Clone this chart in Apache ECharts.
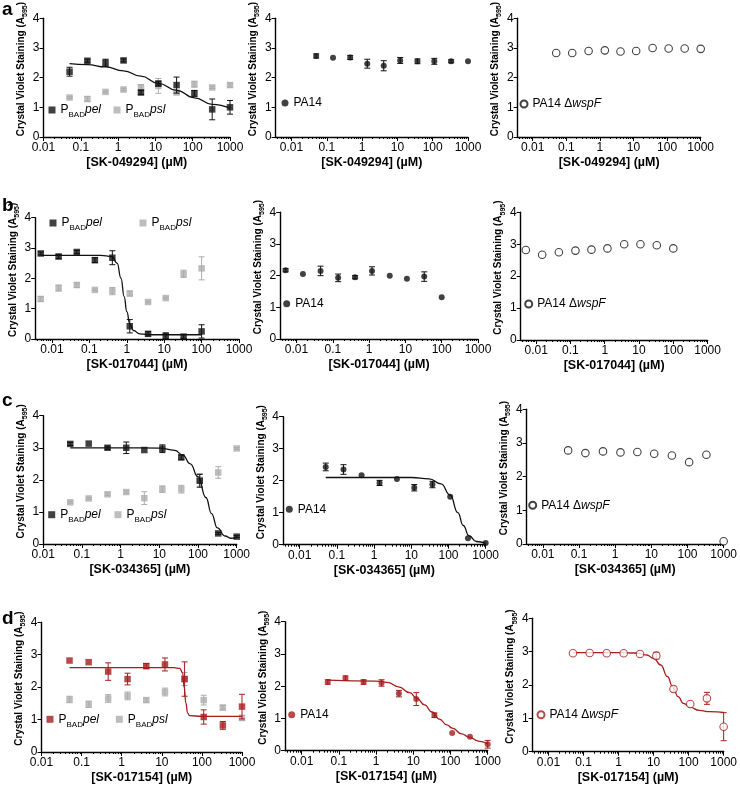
<!DOCTYPE html>
<html>
<head>
<meta charset="utf-8">
<script src="https://cdn.jsdelivr.net/npm/echarts@6/dist/echarts.min.js"></script>
<style>
  html, body { margin: 0; padding: 0; background: #fff; }
  #chart { width: 740px; height: 785px; }
</style>
</head>
<body>
<div id="chart"></div>
<script>
// concentrations (µM), 3-fold dilutions
const concHigh = [0.05, 0.15, 0.46, 1.4, 4.1, 12, 37, 111, 333, 1000]
const concLow = [0.005, 0.015, 0.046, 0.14, 0.41, 1.2, 3.7, 11, 33, 100]
const xTickLabels = ['0.01', '0.1', '1', '10', '100', '1000']
const xMajorTicks = [-2, -1, 0, 1, 2, 3]

// row a - SK-049294
const aPel = [2.2, 2.57, 2.5, 2.58, 1.5, 1.8, 1.75, 1.47, 0.93, 1.0]
const aPelErr = [0.15, 0.05, 0.12, 0.05, 0.07, 0.08, 0.27, 0.1, 0.35, 0.23]
const aPsl = [1.33, 1.28, 1.52, 1.6, 1.67, 1.72, 1.5, 1.78, 1.67, 1.75]
const aPslErr = [0.03, 0.08, 0.03, 0.04, 0.1, 0.25, 0.05, 0.1, 0.04, 0.07]
const aPelFit = [[0.05, 2.47], [0.15, 2.44], [0.46, 2.36], [1.4, 2.23], [4.1, 2.05], [12, 1.81], [37, 1.57], [111, 1.32], [333, 1.1], [1000, 0.97]]
const aPA14 = [2.73, 2.67, 2.68, 2.47, 2.4, 2.58, 2.55, 2.55, 2.55, 2.55]
const aPA14Err = [0.07, 0, 0.07, 0.15, 0.17, 0.1, 0.08, 0.1, 0.05, 0]
const aWspF = [2.83, 2.83, 2.9, 2.92, 2.88, 2.9, 3.0, 2.98, 2.98, 2.97]

// row b - SK-017044
const bPel = [2.82, 2.72, 2.87, 2.6, 2.68, 0.42, 0.17, 0.1, 0.08, 0.25]
const bPelErr = [0.05, 0.07, 0.05, 0.08, 0.23, 0.22, 0.07, 0.1, 0.06, 0.22]
const bPsl = [1.32, 1.68, 1.78, 1.62, 1.58, 1.5, 1.22, 1.35, 2.15, 2.33]
const bPslErr = [0.08, 0.1, 0.08, 0.03, 0.12, 0.08, 0.03, 0.03, 0.12, 0.38]
const bPelFit = [[0.005, 2.76], [0.2, 2.76], [0.4, 2.72], [0.55, 2.5], [0.7, 2.0], [0.85, 1.4], [1.0, 0.9], [1.2, 0.5], [1.5, 0.28], [2.2, 0.17], [5, 0.14], [100, 0.14]]
const bPA14 = [2.17, 2.05, 2.15, 1.93, 1.95, 2.15, 2.0, 1.9, 1.97, 1.32]
const bPA14Err = [0.05, 0, 0.15, 0.12, 0.05, 0.13, 0, 0, 0.15, 0]
const bWspF = [2.82, 2.67, 2.75, 2.8, 2.83, 2.87, 3.0, 3.0, 2.97, 2.87]

// row c - SK-034365
const cPel = [3.12, 3.13, 3.0, 3.0, 2.93, 2.97, 2.7, 1.97, 0.33, 0.23]
const cPelErr = [0.05, 0, 0.05, 0.18, 0, 0.12, 0.07, 0.2, 0.03, 0.03]
const cPsl = [1.3, 1.42, 1.55, 1.62, 1.43, 1.71, 1.71, 2.0, 2.23, 2.98]
const cPslErr = [0.03, 0.03, 0.04, 0.04, 0.2, 0.1, 0.12, 0.2, 0.18, 0.03]
const cPelFit = [[0.05, 3.0], [1, 3.0], [10, 2.99], [25, 2.92], [40, 2.78], [63, 2.5], [100, 2.1], [160, 1.45], [224, 0.95], [316, 0.5], [500, 0.25], [700, 0.18], [1000, 0.2]]
const cPA14 = [2.43, 2.35, 2.17, 1.93, 2.05, 1.78, 1.88, 1.5, 0.2, 0.05]
const cPA14Err = [0.12, 0.15, 0, 0.08, 0, 0.1, 0.1, 0, 0, 0]
const cPA14Fit = [[0.05, 2.1], [10, 2.1], [30, 2.06], [63, 1.9], [111, 1.55], [178, 1.0], [250, 0.6], [355, 0.28], [560, 0.1], [1000, 0.05]]
const cWspF = [2.78, 2.7, 2.75, 2.72, 2.73, 2.68, 2.63, 2.43, 2.65, 0.08]

// row d - SK-017154
const dPel = [2.82, 2.77, 2.48, 2.25, 2.65, 2.7, 2.25, 1.08, 0.82, 1.4]
const dPelErr = [0, 0, 0.27, 0.18, 0.08, 0.2, 0.53, 0.22, 0.12, 0.38]
const dPsl = [1.62, 1.47, 1.65, 1.73, 1.6, 1.85, 2.25, 1.6, 1.37, 1.05]
const dPslErr = [0.1, 0.1, 0.12, 0.12, 0.07, 0.12, 0.2, 0.15, 0.07, 0.08]
const dPelFit = [[0.05, 2.6], [20, 2.6], [28, 2.58], [33, 2.45], [36, 2.0], [40, 1.5], [44, 1.2], [50, 1.12], [100, 1.1], [1000, 1.1]]
const dPA14 = [2.13, 2.25, 2.13, 2.1, 1.77, 1.6, 1.1, 0.55, 0.43, 0.2]
const dPA14Err = [0.07, 0.07, 0.07, 0.1, 0.1, 0.2, 0.07, 0, 0, 0.12]
const dPA14Fit = [[0.05, 2.19], [1, 2.16], [2, 2.12], [4, 1.98], [8, 1.8], [12.6, 1.62], [20, 1.42], [32, 1.2], [50, 0.98], [80, 0.8], [112, 0.7], [200, 0.52], [316, 0.42], [560, 0.3], [1000, 0.22]]
const dWspF = [2.95, 2.96, 2.95, 2.95, 2.93, 2.88, 1.88, 1.43, 1.6, 0.75]
const dWspFErr = [0, 0, 0, 0, 0, 0.1, 0.08, 0, 0.18, 0.42]
const dWspFFit = [[0.05, 2.97], [1, 2.97], [3.2, 2.96], [6.3, 2.9], [10, 2.8], [16, 2.6], [25, 2.25], [35, 1.95], [50, 1.65], [71, 1.45], [112, 1.33], [200, 1.24], [400, 1.2], [1000, 1.18]]

const FONT = 'Liberation Sans, Arial, sans-serif'
const BLACK = '#111111'
const GRAY = '#adadad'
const RED = '#a51e1e'

// plot boxes in px (left = y axis, right = 1000 µM)
const layout = [
  { left: 43.5, right: 230, top: 15, bottom: 137, xmin: -2 },
  { left: 275.6, right: 468, top: 15, bottom: 137, xmin: -2.45 },
  { left: 517.6, right: 700.7, top: 12, bottom: 137, xmin: -2.45 },
  { left: 35.2, right: 239, top: 217.7, bottom: 339, xmin: -2.45 },
  { left: 280.2, right: 478, top: 212.3, bottom: 339, xmin: -2.45 },
  { left: 520.7, right: 707.6, top: 212.3, bottom: 340, xmin: -2.45 },
  { left: 43.2, right: 236.7, top: 415.7, bottom: 544, xmin: -2 },
  { left: 283, right: 485.7, top: 416.7, bottom: 544.7, xmin: -2.45 },
  { left: 526.6, right: 725, top: 409.3, bottom: 544, xmin: -2.45 },
  { left: 41.5, right: 242, top: 622.3, bottom: 752.3, xmin: -2 },
  { left: 285, right: 487.7, top: 621.7, bottom: 750.7, xmin: -2.45 },
  { left: 532.7, right: 726.7, top: 618.3, bottom: 751.7, xmin: -2.45 }
]

const panels = [
  { xName: '[SK-049294] (µM)', sets: [
    { key: 'a1-psl', conc: concHigh, y: aPsl, err: aPslErr, shape: 'sq', color: GRAY },
    { key: 'a1-pel', conc: concHigh, y: aPel, err: aPelErr, shape: 'sq', color: BLACK, fit: aPelFit }],
    legends: [['a1-pel', 52, 113], ['a1-psl', 117, 113]] },
  { xName: '[SK-049294] (µM)', sets: [
    { key: 'a2-pa14', conc: concHigh, y: aPA14, err: aPA14Err, shape: 'dot', color: BLACK }],
    legends: [['a2-pa14', 285, 106]] },
  { xName: '[SK-049294] (µM)', sets: [
    { key: 'a3-wsp', conc: concHigh, y: aWspF, shape: 'ring', color: BLACK }],
    legends: [['a3-wsp', 523, 107]] },
  { xName: '[SK-017044] (µM)', sets: [
    { key: 'b1-psl', conc: concLow, y: bPsl, err: bPslErr, shape: 'sq', color: GRAY },
    { key: 'b1-pel', conc: concLow, y: bPel, err: bPelErr, shape: 'sq', color: BLACK, fit: bPelFit }],
    legends: [['b1-pel', 53, 226], ['b1-psl', 143, 226]] },
  { xName: '[SK-017044] (µM)', sets: [
    { key: 'b2-pa14', conc: concLow, y: bPA14, err: bPA14Err, shape: 'dot', color: BLACK }],
    legends: [['b2-pa14', 286.7, 306.7]] },
  { xName: '[SK-017044] (µM)', sets: [
    { key: 'b3-wsp', conc: concLow, y: bWspF, shape: 'ring', color: BLACK }],
    legends: [['b3-wsp', 527.7, 307]] },
  { xName: '[SK-034365] (µM)', sets: [
    { key: 'c1-psl', conc: concHigh, y: cPsl, err: cPslErr, shape: 'sq', color: GRAY },
    { key: 'c1-pel', conc: concHigh, y: cPel, err: cPelErr, shape: 'sq', color: BLACK, fit: cPelFit }],
    legends: [['c1-pel', 51.7, 517.7], ['c1-psl', 118, 517.7]] },
  { xName: '[SK-034365] (µM)', sets: [
    { key: 'c2-pa14', conc: concHigh, y: cPA14, err: cPA14Err, shape: 'dot', color: BLACK, fit: cPA14Fit }],
    legends: [['c2-pa14', 289.3, 512.3]] },
  { xName: '[SK-034365] (µM)', sets: [
    { key: 'c3-wsp', conc: concHigh, y: cWspF, shape: 'ring', color: BLACK }],
    legends: [['c3-wsp', 531.7, 508.3]] },
  { xName: '[SK-017154] (µM)', sets: [
    { key: 'd1-psl', conc: concHigh, y: dPsl, err: dPslErr, shape: 'sq', color: GRAY },
    { key: 'd1-pel', conc: concHigh, y: dPel, err: dPelErr, shape: 'sq', color: RED, fit: dPelFit }],
    legends: [['d1-pel', 50, 722.3], ['d1-psl', 119.3, 722.3]] },
  { xName: '[SK-017154] (µM)', sets: [
    { key: 'd2-pa14', conc: concHigh, y: dPA14, err: dPA14Err, shape: 'dot', color: RED, fit: dPA14Fit }],
    legends: [['d2-pa14', 291.7, 717.7]] },
  { xName: '[SK-017154] (µM)', sets: [
    { key: 'd3-wsp', conc: concHigh, y: dWspF, err: dWspFErr, shape: 'ring', color: RED, fit: dWspFFit }],
    legends: [['d3-wsp', 540, 717.7]] }
]

const grid = []
const xAxis = []
const yAxis = []
const series = []
const legend = []

function lg(v) {
  return Math.log10(v)
}

function legendLabel(key) {
  if (key.endsWith('pel')) return '{n|P}{s|BAD}{i|pel}'
  if (key.endsWith('psl')) return '{n|P}{s|BAD}{i|psl}'
  if (key.endsWith('wsp')) return '{n|PA14 Δ}{i|wspF}'
  return '{n|PA14}'
}

function errorSeries(i, set) {
  const color = set.color
  return {
    type: 'custom',
    coordinateSystem: 'cartesian2d',
    xAxisIndex: 2 * i,
    yAxisIndex: i,
    z: set.color === GRAY ? 2 : 4,
    silent: true,
    data: set.conc.map((c, k) => [lg(c), set.y[k], set.err[k]]),
    encode: { x: 0, y: 1 },
    renderItem(params, api) {
      const x = api.value(0)
      const y = api.value(1)
      const e = api.value(2)
      if (!e) return
      const lo = api.coord([x, y - e])
      const hi = api.coord([x, y + e])
      const w = 3
      const st = { stroke: color, lineWidth: 1 }
      return {
        type: 'group',
        children: [
          { type: 'line', shape: { x1: lo[0], y1: lo[1], x2: hi[0], y2: hi[1] }, style: st },
          { type: 'line', shape: { x1: lo[0] - w, y1: lo[1], x2: lo[0] + w, y2: lo[1] }, style: st },
          { type: 'line', shape: { x1: hi[0] - w, y1: hi[1], x2: hi[0] + w, y2: hi[1] }, style: st }
        ]
      }
    }
  }
}

panels.forEach((p, i) => {
  const box = layout[i]
  grid.push({ left: box.left, top: box.top, width: box.right - box.left, height: box.bottom - box.top })

  const minor = []
  for (let n = -3; n < 3; n++) {
    for (let k = 2; k < 10; k++) {
      const v = n + Math.log10(k)
      if (v >= box.xmin) minor.push(v)
    }
  }

  xAxis.push({
    type: 'value', gridIndex: i, min: box.xmin, max: 3, position: 'bottom',
    name: p.xName, nameLocation: 'middle', nameGap: 19,
    nameTextStyle: { fontFamily: FONT, fontWeight: 'bold', fontSize: 12.5, color: '#000' },
    axisLine: { onZero: false, lineStyle: { color: '#000', width: 1.4 } },
    axisTick: { customValues: xMajorTicks, length: 4, lineStyle: { color: '#000', width: 1 } },
    axisLabel: {
      customValues: xMajorTicks, margin: 5, color: '#000', fontFamily: FONT, fontSize: 12,
      formatter: v => xTickLabels[Math.round(v) + 2]
    },
    splitLine: { show: false }
  })
  xAxis.push({
    type: 'value', gridIndex: i, min: box.xmin, max: 3, position: 'bottom',
    axisLine: { show: false, onZero: false },
    axisTick: { customValues: minor, length: 2, lineStyle: { color: '#000', width: 1 } },
    axisLabel: { show: false },
    splitLine: { show: false }
  })
  yAxis.push({
    type: 'value', gridIndex: i, min: 0, max: 4, interval: 1, position: 'left',
    name: '{t|Crystal Violet Staining (A}{s|595}{t|)}',
    nameLocation: 'middle', nameRotate: 90, nameGap: 13,
    nameTextStyle: {
      padding: [0, 0, 0, 17],
      rich: {
        t: { fontFamily: FONT, fontWeight: 'bold', fontSize: 10, color: '#000' },
        s: { fontFamily: FONT, fontWeight: 'bold', fontSize: 7, color: '#000', lineHeight: 15, verticalAlign: 'bottom' }
      }
    },
    axisLine: { show: true, onZero: false, lineStyle: { color: '#000', width: 1.4 } },
    axisTick: { show: true, length: 4, lineStyle: { color: '#000', width: 1 } },
    axisLabel: { margin: 4, color: '#000', fontFamily: FONT, fontSize: 12 },
    splitLine: { show: false }
  })

  p.sets.forEach(set => {
    if (set.err) series.push(errorSeries(i, set))
    const base = {
      type: 'scatter', name: set.key, xAxisIndex: 2 * i, yAxisIndex: i,
      z: set.color === GRAY ? 2 : 4, silent: true,
      data: set.conc.map((c, k) => [lg(c), set.y[k]])
    }
    if (set.shape === 'sq') {
      base.symbol = 'rect'
      base.symbolSize = 6.5
      base.itemStyle = { color: set.color }
    } else if (set.shape === 'dot') {
      base.symbol = 'circle'
      base.symbolSize = 6
      base.itemStyle = { color: set.color }
    } else {
      base.symbol = 'circle'
      base.symbolSize = 7.5
      base.itemStyle = { color: '#fff', borderColor: set.color, borderWidth: 1.1 }
    }
    series.push(base)
    if (set.fit) {
      series.push({
        type: 'line', xAxisIndex: 2 * i, yAxisIndex: i, z: 3, silent: true,
        showSymbol: false, smooth: true, smoothMonotone: 'x',
        lineStyle: { color: set.color, width: 1.3 },
        data: set.fit.map(d => [lg(d[0]), d[1]])
      })
    }
  })

  p.legends.forEach(([key, cx, cy]) => {
    legend.push({
      data: [key], left: cx - 3.5, top: cy - 9, padding: 0,
      itemWidth: 7, itemHeight: 7, itemGap: 0, selectedMode: false,
      formatter: legendLabel,
      textStyle: {
        color: '#000', fontFamily: FONT, fontSize: 12,
        rich: {
          n: { fontFamily: FONT, fontSize: 12, color: '#000' },
          s: { fontFamily: FONT, fontSize: 8, color: '#000', lineHeight: 18, verticalAlign: 'bottom' },
          i: { fontFamily: FONT, fontSize: 12, fontStyle: 'italic', color: '#000' }
        }
      }
    })
  })
})

const letters = [['a', 0], ['b', 196], ['c', 391], ['d', 609]]

const chart = echarts.init(document.getElementById('chart'))
chart.setOption({
  animation: false,
  backgroundColor: '#fff',
  grid, xAxis, yAxis, series, legend,
  graphic: letters.map(([t, y]) => ({
    type: 'text', left: 2, top: y,
    style: { text: t, font: 'bold 19px ' + FONT, fill: '#000' }
  }))
})
</script>
</body>
</html>
